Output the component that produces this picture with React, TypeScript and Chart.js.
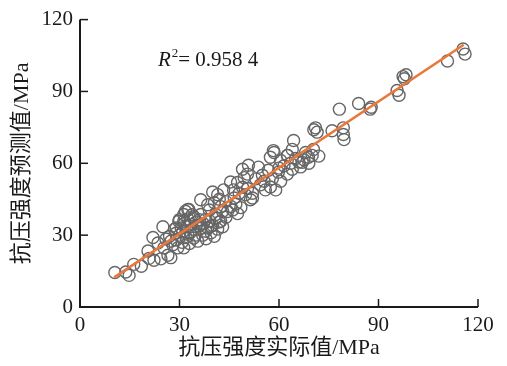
import React, { useEffect, useRef } from "react";
import { Chart, registerables } from "chart.js";

Chart.register(...registerables);

// Measured (actual) strength, MPa
const actualValues: number[] = [
  10.5, 13.8, 14.8, 16.2, 18.5, 20.8, 22.3, 20.5, 22.0, 24.4, 25.3, 26.5, 27.4, 23.5, 25.9, 27.4, 25.0, 28.9, 29.5, 29.8,
  31.3, 32.8, 34.3, 36.4, 36.4, 31.3, 32.5, 34.3, 37.9,
  27.0, 28.0, 28.5, 29.0, 30.0, 30.5, 30.8, 31.0, 31.5, 32.0, 32.2, 32.5, 33.0, 33.2, 33.5, 34.0, 34.8, 35.0, 35.5, 35.8,
  36.0, 37.0, 37.2, 38.0, 38.5, 39.0, 39.5, 40.0, 40.5, 41.0, 41.5, 42.0, 43.0, 30.0, 29.0, 31.8, 33.8,
  32.5, 34.3, 37.9, 36.4, 31.3, 42.4, 39.4, 36.4, 38.5, 42.4, 44.5, 40.9, 47.5, 45.4, 46.3, 43.3, 41.5, 40.0, 49.9, 51.4,
  55.9, 57.4, 59.0, 54.4, 50.8, 50.5, 53.8, 56.8, 59.8, 62.5, 58.3, 57.4, 60.5, 62.5,
  44.0, 45.5, 46.5, 47.0, 48.0, 48.5, 43.0, 39.0, 40.5, 42.0, 44.0, 46.0, 49.0, 50.5, 52.0, 53.0, 55.0, 52.0, 47.5, 49.0,
  49.5, 55.5, 58.0, 60.0, 61.5, 63.5, 64.0, 65.0, 66.0, 60.5,
  64.4, 64.0, 58.5, 62.6, 68.0, 70.0, 70.4, 71.0, 71.5, 70.5, 76.0, 79.4, 79.4, 79.6, 78.2, 84.0, 87.5, 87.8, 95.6, 96.2,
  97.4, 98.3, 97.8, 110.8, 115.5, 116.1, 67.5, 69.0, 72.0, 66.5, 68.9, 67.0,
];

// Predicted strength, MPa
const predictedValues: number[] = [
  14.4, 14.6, 13.2, 17.8, 17.0, 20.3, 19.5, 23.4, 29.0, 20.1, 24.7, 21.6, 20.6, 26.7, 28.4, 27.5, 33.5, 30.8, 24.7, 35.8,
  38.6, 40.7, 37.0, 38.6, 32.9, 24.7, 30.4, 28.8, 31.6,
  29.5, 26.0, 32.5, 28.0, 30.0, 33.0, 27.0, 31.5, 35.0, 29.0, 33.5, 36.8, 26.5, 31.0, 34.5, 32.5, 30.0, 35.5, 27.5, 33.8,
  36.5, 30.0, 34.8, 28.5, 33.0, 36.0, 31.0, 34.0, 29.5, 37.0, 32.5, 35.5, 33.5, 36.5, 33.0, 40.0, 38.5,
  40.7, 37.8, 36.6, 34.5, 35.8, 35.8, 33.7, 44.8, 42.7, 41.9, 39.9, 38.6, 39.0, 52.2, 48.9, 48.9, 46.9, 48.0, 46.9, 44.8,
  48.9, 50.1, 48.9, 51.0, 59.2, 55.5, 58.4, 57.1, 56.3, 55.5, 65.3, 62.5, 61.2, 63.3,
  44.0, 42.0, 45.5, 43.0, 47.5, 41.5, 40.0, 40.5, 43.5, 45.0, 37.5, 40.5, 50.0, 49.5, 47.5, 53.5, 55.0, 45.5, 52.0, 57.5,
  54.0, 52.5, 53.5, 58.0, 59.0, 60.0, 57.5, 62.0, 60.5, 52.5,
  69.5, 65.8, 64.5, 63.3, 64.5, 63.3, 65.8, 74.8, 73.0, 74.0, 73.6, 74.8, 72.0, 69.9, 82.6, 85.0, 82.6, 83.4, 90.4, 88.4,
  96.2, 97.0, 95.3, 102.7, 107.7, 105.6, 61.5, 60.0, 63.0, 58.5, 62.5, 60.4,
];

// Fitted line end points
const fitX: number[] = [10.3, 115.7];
const fitY: number[] = [12.4, 109.5];

const tickValues: number[] = [0, 30, 60, 90, 120];
const xTitle = "抗压强度实际值/MPa";
const yTitle = "抗压强度预测值/MPa";
const r2Value = "0.958 4";

const FONT = "'Liberation Serif', 'Noto Sans CJK SC', serif";

export default function App() {
  const ref = useRef<HTMLCanvasElement | null>(null);

  useEffect(() => {
    if (!ref.current) return;
    const axesPlugin = {
      id: "axesPlugin",
      afterDatasetsDraw(chart: any) {
        const { ctx, chartArea, scales } = chart;
        const xs = scales.x;
        const ys = scales.y;
        ctx.save();
        ctx.strokeStyle = "#1a1a1a";
        ctx.lineWidth = 2;
        ctx.beginPath();
        ctx.moveTo(chartArea.left, chartArea.top);
        ctx.lineTo(chartArea.left, chartArea.bottom);
        ctx.lineTo(chartArea.right, chartArea.bottom);
        ctx.stroke();
        ctx.lineWidth = 1.5;
        tickValues.forEach((v) => {
          if (v === 0) return;
          const px = xs.getPixelForValue(v);
          ctx.beginPath();
          ctx.moveTo(px, chartArea.bottom);
          ctx.lineTo(px, chartArea.bottom - 8);
          ctx.stroke();
          const py = ys.getPixelForValue(v);
          ctx.beginPath();
          ctx.moveTo(chartArea.left, py);
          ctx.lineTo(chartArea.left + 8, py);
          ctx.stroke();
        });
        // R² annotation
        const tx = xs.getPixelForValue(23.5);
        const ty = ys.getPixelForValue(100.5);
        ctx.fillStyle = "#1a1a1a";
        ctx.textBaseline = "alphabetic";
        ctx.textAlign = "left";
        ctx.font = "italic 21px " + FONT;
        ctx.fillText("R", tx, ty);
        let w = ctx.measureText("R").width;
        ctx.font = "13px " + FONT;
        ctx.fillText("2", tx + w + 1, ty - 9);
        w += ctx.measureText("2").width + 1;
        ctx.font = "21px " + FONT;
        ctx.fillText("= " + r2Value, tx + w, ty);
        ctx.restore();
      },
    };

    const scatterData = actualValues.map((x, i) => ({ x, y: predictedValues[i] }));
    const lineData = fitX.map((x, i) => ({ x, y: fitY[i] }));

    const chart = new Chart(ref.current, {
      type: "scatter",
      data: {
        datasets: [
          {
            type: "line",
            data: lineData,
            borderColor: "#E8783C",
            borderWidth: 2.6,
            pointRadius: 0,
            fill: false,
          } as any,
          {
            type: "scatter",
            data: scatterData,
            pointRadius: 6,
            pointBorderColor: "#666666",
            pointBackgroundColor: "rgba(0,0,0,0)",
            pointBorderWidth: 1.4,
          },
        ],
      },
      options: {
        animation: false,
        responsive: false,
        maintainAspectRatio: false,
        layout: { padding: { top: 15, right: 29, bottom: 0, left: 0 } },
        plugins: { legend: { display: false }, tooltip: { enabled: false } },
        scales: {
          x: {
            type: "linear",
            min: 0,
            max: 120,
            afterFit: (s: any) => {
              s.height = 59;
            },
            afterBuildTicks: (s: any) => {
              s.ticks = tickValues.map((v) => ({ value: v }));
            },
            grid: { display: false, drawTicks: false },
            border: { display: false },
            ticks: {
              padding: 6,
              color: "#1a1a1a",
              font: { family: FONT, size: 21 },
            },
            title: {
              display: true,
              text: xTitle,
              color: "#1a1a1a",
              font: { family: FONT, size: 22 },
              padding: { top: 0, bottom: 5 },
            },
          },
          y: {
            type: "linear",
            min: 0,
            max: 120,
            afterFit: (s: any) => {
              s.width = 80;
            },
            afterBuildTicks: (s: any) => {
              s.ticks = tickValues.map((v) => ({ value: v }));
            },
            grid: { display: false, drawTicks: false },
            border: { display: false },
            ticks: {
              padding: 7,
              color: "#1a1a1a",
              font: { family: FONT, size: 21 },
            },
            title: {
              display: true,
              text: yTitle,
              color: "#1a1a1a",
              font: { family: FONT, size: 22 },
              padding: { top: 9, bottom: 0 },
            },
          },
        },
      },
      plugins: [axesPlugin],
    });
    return () => chart.destroy();
  }, []);

  return (
    <div style={{ position: "fixed", left: 0, top: 0, width: 507, height: 366, background: "#fff" }}>
      <canvas ref={ref} width={507} height={366} style={{ display: "block", width: 507, height: 366 }} />
    </div>
  );
}
